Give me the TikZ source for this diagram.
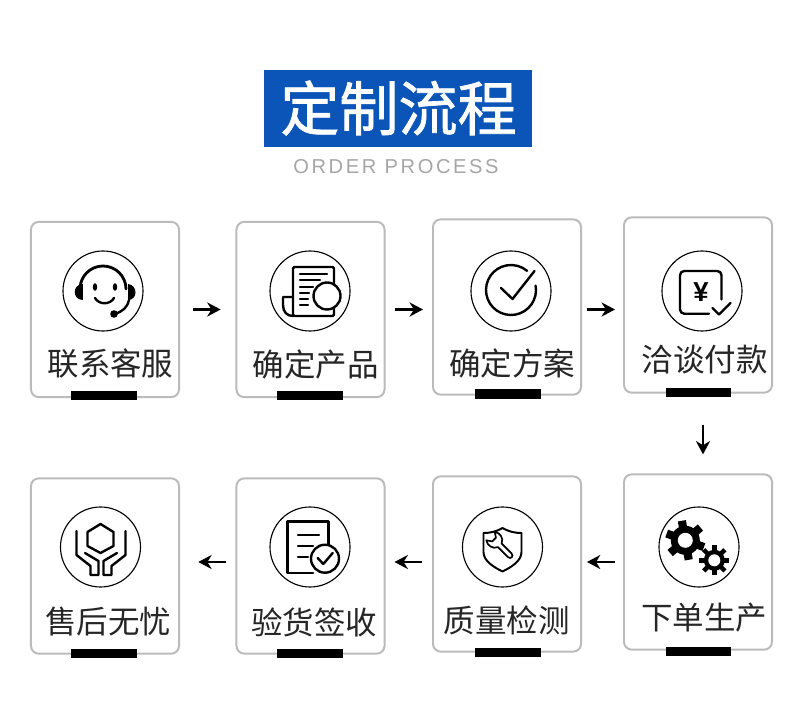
\documentclass[tikz,border=0pt]{standalone}
\usepackage{fontspec}
\newfontfamily\cjk{Noto Sans CJK SC}
\newfontfamily\titlefont[FakeBold=1.2]{Noto Sans CJK SC}
\newfontfamily\latinfont{Liberation Sans}
\newfontfamily\orderfont[LetterSpace=13]{Liberation Sans}
\definecolor{titleblue}{HTML}{0B55B9}
\definecolor{cardgray}{HTML}{BBBBBB}
\usetikzlibrary{arrows.meta}

\tikzset{
  card/.style={draw=cardgray, line width=1.4pt, rounded corners=5.5pt, fill=white, inner sep=0pt, minimum width=3.7cm, minimum height=4.38cm},
  cardbar/.style={fill=black, inner sep=0pt, minimum width=1.625cm, minimum height=0.225cm},
  iconring/.style={draw=black, line width=0.8pt, circle, inner sep=0pt, minimum size=2cm},
  steptext/.style={font=\cjk\fontsize{22.4}{26}\selectfont, text=black!85, inner sep=0pt},
  flow/.style={draw=black, line width=1.5pt, -{Stealth[length=9.5pt, width=10pt, inset=3pt]}},
  ink/.style={draw=black, line width=1.7pt, line cap=round, line join=round},
  thinink/.style={draw=black, line width=1.2pt, line cap=round, line join=round}
}

\begin{document}
\begin{tikzpicture}[x=0.025cm, y=-0.025cm]
  \useasboundingbox (0,0) rectangle (790,708);
  \fill[white] (0,0) rectangle (790,708);

  % title
  \node[fill=titleblue, inner sep=0pt, minimum width=6.7cm, minimum height=1.925cm] (titlebox) at (398,108.5) {};
  \node[font=\titlefont\fontsize{42}{50}\selectfont, text=white, inner sep=0pt] (titletext) at (398.5,108) {定制流程};
  \node[font=\orderfont\fontsize{14.3}{17}\selectfont, text=black!35, inner sep=0pt] (ordertext) at (396,167) {ORDER PROCESS};

  % upper row
  \node[card] (kefu) at (105,309.5) {};
  \node[card] (chanpin) at (310.5,309.5) {};
  \node[card] (fangan) at (507,307) {};
  \node[card] (fukuan) at (698,305) {};
  \node[cardbar] (kefubar) at (104,395.5) {};
  \node[cardbar] (chanpinbar) at (310,395.5) {};
  \node[cardbar] (fanganbar) at (508,394) {};
  \node[cardbar] (fukuanbar) at (698.5,392.5) {};
  \node[iconring] (kefuring) at (103,291) {};
  \node[iconring] (chanpinring) at (310,291) {};
  \node[iconring] (fanganring) at (511,291) {};
  \node[iconring] (fukuanring) at (702,291) {};
  \node[steptext] (kefutext) at (110.5,364) {联系客服};
  \node[steptext] (chanpintext) at (315.5,365) {确定产品};
  \node[steptext] (fangantext) at (512,363) {确定方案};
  \node[steptext] (fukuantext) at (704.5,360) {洽谈付款};

  % lower row
  \node[card] (shouhou) at (105,566) {};
  \node[card] (yanshou) at (310.5,566) {};
  \node[card] (jiance) at (507,564) {};
  \node[card] (xiadan) at (698,562) {};
  \node[cardbar] (shouhoubar) at (104,653.5) {};
  \node[cardbar] (yanshoubar) at (310,653.5) {};
  \node[cardbar] (jiancebar) at (508,652.5) {};
  \node[cardbar] (xiadanbar) at (698.5,651) {};
  \node[iconring] (shouhouring) at (100.5,547) {};
  \node[iconring] (yanshouring) at (310,547) {};
  \node[iconring] (jiancering) at (502.5,547) {};
  \node[iconring] (xiadanring) at (699,547) {};
  \node[steptext] (shouhoutext) at (108,622) {售后无忧};
  \node[steptext] (yanshoutext) at (314,622) {验货签收};
  \node[steptext] (jiancetext) at (506.5,620.5) {质量检测};
  \node[steptext] (xiadantext) at (704,618) {下单生产};

  % arrows
  \draw[flow, shorten <=9.2pt, shorten >=10.6pt] (kefu) -- (chanpin);
  \draw[flow, shorten <=7pt, shorten >=6.4pt] (chanpin) -- (fangan.west |- chanpin);
  \draw[flow, shorten <=3.5pt, shorten >=5.7pt] (fangan.east |- chanpin) -- (fukuan.west |- chanpin);
  \draw[flow, shorten <=22pt, shorten >=13.5pt] ([xshift=0.125cm]fukuan.south) -- ([xshift=0.125cm]xiadan.north);
  \draw[flow, shorten <=5.7pt, shorten >=3.5pt] (xiadan) -- (jiance.east |- xiadan);
  \draw[flow, shorten <=7pt, shorten >=6.4pt] (jiance.west |- xiadan) -- (yanshou.east |- xiadan);
  \draw[flow, shorten <=7pt, shorten >=13pt] (yanshou.west |- xiadan) -- (shouhou.east |- xiadan);

  % headset
  \begin{scope}[shift={(103,291)}]
    \draw[ink, line width=2pt] (-23,-2) arc[start angle=180, end angle=360, radius=23];
    \fill (-20,-7) .. controls (-31,-7) and (-31,9) .. (-20,9) -- cycle;
    \fill (25,-7) .. controls (35,-6) and (35,9) .. (25,9) -- cycle;
    \draw[ink] (26,9) .. controls (24,17) and (20,20) .. (12,23);
    \fill (11,23) circle (3.8);
    \fill (-8,-4) ellipse (2.2 and 3.8);
    \fill (12,-4) ellipse (2.2 and 3.8);
    \draw[ink] (-8,7) .. controls (-4,14) and (7,14) .. (11,7);
  \end{scope}

  % document with seal
  \begin{scope}[shift={(310,291)}]
    \draw[ink, rounded corners=1pt] (-17,25) -- (-17,-24) -- (24,-24) -- (24,25) -- cycle;
    \draw[ink] (-17,6) -- (-27,6) -- (-27,14) .. controls (-27,21) and (-23,25) .. (-17,25);
    \draw[ink] (-10,-17) -- (17,-17);
    \draw[ink] (-10,-11) -- (10,-11);
    \draw[ink] (-10,-4) -- (3,-4);
    \draw[ink] (-10,2) -- (-1,2);
    \draw[ink] (-10,8) -- (-2,8);
    \draw[ink] (-10,14) -- (-2,14);
    \draw[ink, fill=white] (17,5) circle (13.5);
  \end{scope}

  % ring and tick
  \begin{scope}[shift={(511,291)}]
    \draw[ink] (0,-1) ++(-10:25) arc[start angle=-10, end angle=310, radius=25];
    \draw[ink] (-10,-3) -- (1.5,8) -- (23.5,-20);
  \end{scope}

  % yen square
  \begin{scope}[shift={(702,291)}]
    \draw[ink, rounded corners=3pt] (19.5,8.5) -- (19.5,-20) -- (-22,-20) -- (-22,22.7) -- (7,22.7);
    \draw[ink] (10.5,17) -- (17,23.5) -- (28.5,12);
    \node[font=\latinfont\bfseries\fontsize{19.5}{22}\selectfont, inner sep=0pt] (yentext) at (-1,1) {¥};
  \end{scope}

  % gears
  \begin{scope}[shift={(699,547)}]
    \fill (-13.7,-6.7) circle (14.5);
    \foreach \a in {20,80,...,320}
      \draw[line width=5.8pt] (-13.7,-6.7) ++(\a:12) -- ++(\a:7.8);
    \fill[white] (-13.7,-6.7) circle (7.5);
    \fill (15.3,13.3) circle (10.5);
    \foreach \a in {0,45,...,315}
      \draw[line width=3.2pt] (15.3,13.3) ++(\a:9) -- ++(\a:6);
    \fill[white] (15.3,13.3) circle (6);
  \end{scope}

  % shield and wrench
  \begin{scope}[shift={(502.5,547)}]
    \draw[ink, line width=1.4pt] (0,-19) .. controls (-7,-15) and (-13,-14) .. (-19,-14) -- (-19,5) .. controls (-19,14) and (-9,20) .. (0,24.5) .. controls (9,20) and (19,14) .. (19,5) -- (19,-14) .. controls (13,-14) and (7,-15) .. (0,-19) -- cycle;
    \begin{scope}[shift={(-7,-6)}, rotate=-45]
      \draw[thinink] (20,-2.6) -- (6,-2.6) .. controls (4,-8) and (-3,-9) .. (-7,-6) -- (-2,-2.6) -- (-2,2.6) -- (-7,6) .. controls (-3,9) and (4,8) .. (6,2.6) -- (20,2.6) .. controls (24,2.6) and (24,-2.6) .. (20,-2.6) -- cycle;
    \end{scope}
  \end{scope}

  % checked sheet
  \begin{scope}[shift={(310,547)}]
    \draw[ink, line width=2pt] (18.3,-2) -- (18.3,-25.5) -- (-22.3,-25.5) -- (-22.3,26) -- (3,26);
    \draw[ink] (-12,-11.7) -- (9,-11.7);
    \draw[ink] (-12,-0.7) -- (3,-0.7);
    \draw[ink] (-12,10) -- (-2,10);
    \draw[ink, fill=white] (15,11.7) circle (14);
    \draw[ink] (7.7,11) -- (13.3,17) -- (22.7,6);
  \end{scope}

  % hands and hexagon
  \begin{scope}[shift={(100.5,547)}]
    \draw[ink] (0,-23) -- (13,-15) -- (13,-1) -- (0,6) -- (-13,-1) -- (-13,-15) -- cycle;
    \draw[ink] (-24,-16) -- (-24,8) -- (-10,19) -- (-10,28) -- (-2,28) -- (-2,14) -- (-15.5,6);
    \draw[ink] (25,-16) -- (25,8) -- (11,19) -- (11,28) -- (3,28) -- (3,14) -- (16.5,6);
  \end{scope}
\end{tikzpicture}
\end{document}
